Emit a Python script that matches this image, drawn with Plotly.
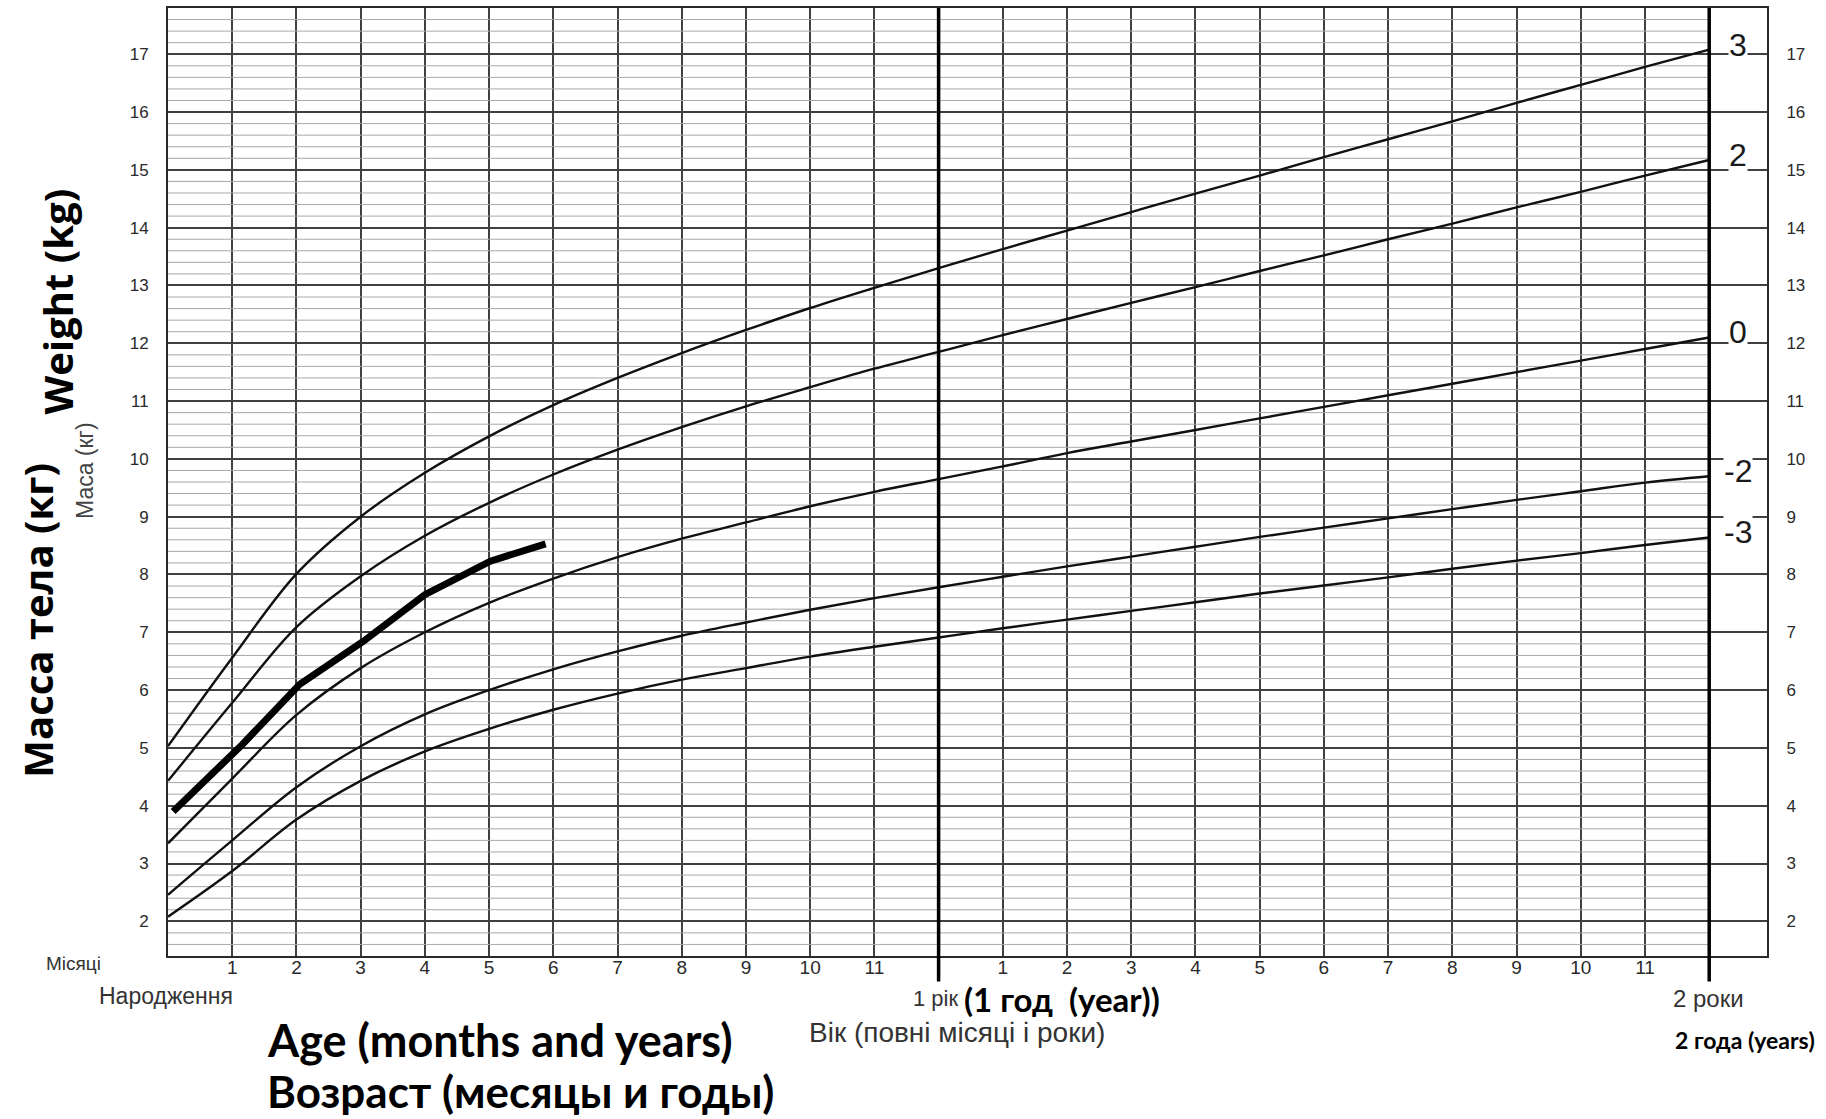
import numpy as np
import plotly.graph_objects as go

# ---------------- data ----------------
MONTHS = list(range(0, 25))
SD_NEG3 = [2.08, 2.87, 3.76, 4.43, 4.94, 5.33, 5.66, 5.94, 6.18, 6.38, 6.58, 6.75, 6.91,
           7.07, 7.22, 7.37, 7.52, 7.67, 7.81, 7.95, 8.10, 8.24, 8.37, 8.51, 8.64]
SD_NEG2 = [2.46, 3.40, 4.32, 5.03, 5.58, 6.00, 6.36, 6.67, 6.94, 7.17, 7.39, 7.59, 7.78,
           7.96, 8.14, 8.31, 8.48, 8.65, 8.81, 8.97, 9.13, 9.29, 9.44, 9.59, 9.70]
SD_0 = [3.35, 4.47, 5.57, 6.38, 7.00, 7.51, 7.93, 8.30, 8.62, 8.90, 9.18, 9.43, 9.65,
        9.87, 10.10, 10.30, 10.50, 10.70, 10.90, 11.10, 11.30, 11.50, 11.70, 11.90, 12.10]
SD_2 = [4.43, 5.78, 7.09, 7.97, 8.67, 9.24, 9.73, 10.16, 10.55, 10.91, 11.24, 11.56, 11.85,
        12.14, 12.42, 12.70, 12.97, 13.25, 13.52, 13.80, 14.07, 14.35, 14.62, 14.90, 15.17]
SD_3 = [5.03, 6.56, 8.01, 9.00, 9.76, 10.39, 10.93, 11.40, 11.83, 12.23, 12.61, 12.96, 13.30,
        13.63, 13.95, 14.27, 14.59, 14.90, 15.22, 15.53, 15.84, 16.16, 16.47, 16.78, 17.08]
CURVES = [SD_3, SD_2, SD_0, SD_NEG2, SD_NEG3]
Z_LABELS = ["3", "2", "0", "-2", "-3"]

CHILD_AGE = [0.08, 1.15, 2.05, 3.05, 4.0, 5.02, 5.88]
CHILD_WT = [3.9, 5.05, 6.1, 6.85, 7.65, 8.23, 8.53]

MONTH_TICKS = [1, 2, 3, 4, 5, 6, 7, 8, 9, 10, 11, 13, 14, 15, 16, 17, 18, 19, 20, 21, 22, 23]
MONTH_TEXT = ["1", "2", "3", "4", "5", "6", "7", "8", "9", "10", "11"] * 2
YEAR_MARKS = [12, 24]
KG_TICKS = list(range(2, 18))

X_RANGE = [0, 24.9]
Y_RANGE = [1.4, 17.8]

# ---------------- layout geometry ----------------
W, H = 1826, 1119
L, R, T, B = 168, 59, 6, 163
PW, PH = W - L - R, H - T - B


def px(x):
    return (x - L) / PW


def py(y):
    return (H - B - y) / PH


SCAN = "Liberation Sans, Arial, sans-serif"
BOLD = "Lato, Open Sans, sans-serif"
WIDE = "Open Sans, sans-serif"

fig = go.Figure()

# minor horizontal grid (only up to 2 years)
minor = [v for v in np.round(np.arange(Y_RANGE[0] + 0.2, Y_RANGE[1], 0.2), 1)
         if abs(v - round(v)) > 1e-6]
mx, my = [], []
for v in minor:
    mx += [X_RANGE[0], YEAR_MARKS[-1], None]
    my += [v, v, None]
fig.add_trace(go.Scatter(x=mx, y=my, mode="lines",
                         line=dict(color="#a8a8a8", width=1),
                         hoverinfo="skip", showlegend=False))

# z-score curves
for c in CURVES:
    fig.add_trace(go.Scatter(x=MONTHS, y=c, mode="lines",
                             line=dict(color="#111111", width=2.4, shape="spline", smoothing=1.0),
                             hoverinfo="skip", showlegend=False))

# child's weight line
fig.add_trace(go.Scatter(x=CHILD_AGE, y=CHILD_WT, mode="lines",
                         line=dict(color="#000000", width=7),
                         hoverinfo="skip", showlegend=False))

# dummy trace for right axis
fig.add_trace(go.Scatter(x=[X_RANGE[0]], y=[KG_TICKS[0]], yaxis="y2", mode="markers",
                         marker=dict(opacity=0), hoverinfo="skip", showlegend=False))

shapes = []
for m in YEAR_MARKS:
    shapes.append(dict(type="line", xref="x", yref="paper", x0=m, x1=m,
                       y0=-0.027, y1=1, line=dict(color="#000000", width=3.5), layer="above"))

ann = []
for lab, c in zip(Z_LABELS, CURVES):
    ann.append(dict(x=(YEAR_MARKS[-1] + X_RANGE[1]) / 2, y=c[-1], xref="x", yref="y",
                    text=lab, showarrow=False, yshift=5, bgcolor="white",
                    font=dict(family=SCAN, size=32, color="#1a1a1a"),
                    xanchor="center", yanchor="middle", borderpad=0))


def txt(text, x, y, size, family=SCAN, color="#333333", xanchor="center", angle=0):
    ann.append(dict(x=px(x), y=py(y), xref="paper", yref="paper", text=text,
                    showarrow=False, xanchor=xanchor, yanchor="middle",
                    textangle=angle, font=dict(family=family, size=size, color=color)))


txt("Місяці", 73, 964, 19)
txt("Народження", 166, 996, 23)
txt("1 рік", 960, 999, 22, xanchor="right")
txt("<b>(1 год\u00a0\u00a0(year))</b>", 962, 999, 33, family=BOLD, color="#000", xanchor="left")
txt("Вік (повні місяці і роки)", 957, 1033, 28)
txt("2 роки", 1708, 999, 24)
txt("<b>2 года (years)</b>", 1745, 1040, 23, family=BOLD, color="#000")
txt("<b>Age (months and years)</b>", 265, 1040, 45, family=BOLD, color="#000", xanchor="left")
txt("<b>Возраст (месяцы и годы)</b>", 265, 1091, 44, family=BOLD, color="#000", xanchor="left")
txt("<b>Weight (kg)</b>", 57, 300, 40, family=WIDE, color="#000", angle=-90)
txt("<b>Масса тела (кг)</b>", 38, 620, 40, family=WIDE, color="#000", angle=-90)
txt("Маса (кг)", 85, 470, 23, color="#444444", angle=-90)

fig.update_layout(
    width=W, height=H,
    margin=dict(l=L, r=R, t=T, b=B, pad=0),
    paper_bgcolor="white", plot_bgcolor="white",
    showlegend=False,
    shapes=shapes, annotations=ann,
    xaxis=dict(range=X_RANGE, tickmode="array", tickvals=MONTH_TICKS, ticktext=MONTH_TEXT,
               showgrid=True, gridcolor="#404040", gridwidth=1.5,
               showline=True, mirror=True, linecolor="#2a2a2a", linewidth=2,
               zeroline=False, ticks="", ticklabelstandoff=-7,
               tickfont=dict(family=SCAN, size=19, color="#2a2a2a")),
    yaxis=dict(range=Y_RANGE, tickmode="array", tickvals=KG_TICKS,
               showgrid=True, gridcolor="#404040", gridwidth=1.5,
               showline=True, mirror=True, linecolor="#2a2a2a", linewidth=2,
               zeroline=False, ticks="outside", ticklen=14, tickcolor="rgba(0,0,0,0)",
               tickfont=dict(family=SCAN, size=17, color="#2a2a2a")),
    yaxis2=dict(range=Y_RANGE, overlaying="y", side="right", tickmode="array",
                tickvals=KG_TICKS, showgrid=False, zeroline=False, showline=False,
                ticks="outside", ticklen=15, tickcolor="rgba(0,0,0,0)",
                tickfont=dict(family=SCAN, size=17, color="#2a2a2a")),
)

fig.write_html("out.html", config={"displayModeBar": False},
               post_script="document.body.style.margin='0';document.body.style.overflow='hidden';")
